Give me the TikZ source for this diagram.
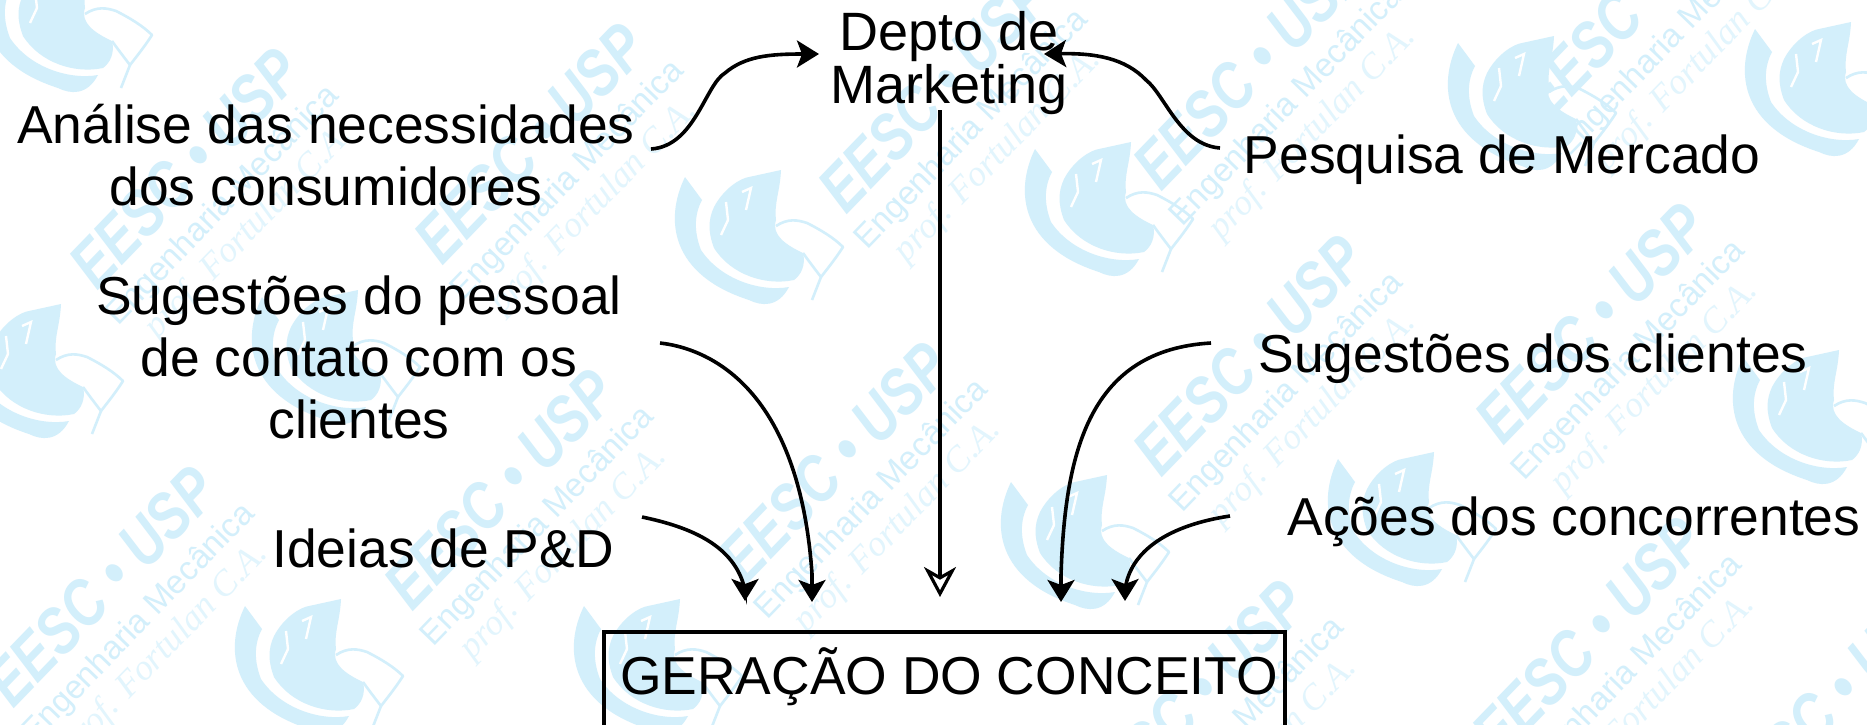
\documentclass[tikz,border=0pt]{standalone}
\usepackage{fontspec}
\setmainfont{Liberation Sans}
\newfontfamily\wmserif{Liberation Serif}
\newfontfamily\wmbold[FakeStretch=0.8]{Liberation Sans Bold Italic}
\usetikzlibrary{arrows.meta}
\definecolor{wm}{HTML}{D3EFFB}
\definecolor{wmlight}{HTML}{E2F5FD}
\tikzset{
  label text/.style={anchor=base,align=center,inner sep=0pt,text=black,font={\fontsize{26.7}{31}\selectfont}},
  tight text/.style={label text,font={\fontsize{27}{25}\selectfont}},
  conn/.style={line width=1.8pt,-{Stealth[length=11pt,width=13.5pt,inset=2.5pt]}},
  openconn/.style={line width=1.8pt,-{Stealth[length=15pt,width=16pt,inset=4.5pt,fill=white,line width=1.6pt]}},
  conceptbox/.style={draw=black,line width=1.8pt,fill=none,anchor=north west,outer sep=0pt,minimum width=340.5pt,minimum height=60pt,inner sep=0pt},
  wmA/.style={rotate=46,inner sep=0pt,text=wm,font={\fontsize{33}{33}\selectfont\wmbold}},
  wmB/.style={rotate=46,inner sep=0pt,text=wm,font={\fontsize{16.5}{17}\selectfont}},
  wmC/.style={rotate=46,inner sep=0pt,text=wmlight,font={\fontsize{18}{18}\selectfont\wmserif\itshape}},
}
\newcommand{\wmlogo}[2]{%
  \begin{scope}[shift={(#1,#2)}]
    \fill[wm] (-71,-63) .. controls (-92,-20) and (-85,35) .. (-7,60)
      .. controls (5,66) and (22,68) .. (33,47)
      .. controls (5,52) and (-35,40) .. (-55,10)
      .. controls (-62,-8) and (-62,-25) .. (-54,-40) -- cycle;
    \fill[wm] (-42,-33) .. controls (-32,-52) and (-15,-62) .. (-7,-63)
      -- (25,-70) .. controls (24,-48) and (18,-38) .. (20,-20)
      .. controls (15,-5) and (30,5) .. (47,13)
      .. controls (50,25) and (45,35) .. (38,40)
      .. controls (10,46) and (-25,35) .. (-42,8)
      .. controls (-48,-8) and (-48,-20) .. (-42,-33) -- cycle;
    \draw[wm,line width=1.3pt,line join=round] (20,-14) .. controls (32,-22) and (42,-20) .. (51,-17)
      .. controls (65,-10) and (78,-2) .. (87,7)
      .. controls (80,18) and (72,28) .. (65,37)
      .. controls (58,28) and (52,20) .. (47,13);
    \draw[wm,line width=1.3pt] (65,37) -- (56,60);
    \draw[white,line width=1.2pt] (-30,-38) -- (-28,-20) -- (-35,-5);
    \draw[white,line width=1.2pt] (-14,-48) -- (-5,-52) -- (-10,-30);
  \end{scope}}
\begin{document}
\begin{tikzpicture}[x=0.5pt,y=-0.5pt]
\useasboundingbox (0,0) rectangle (1867,724);
\begin{scope}
\clip (0,0) rectangle (1867,724);
\fill[white] (0,0) rectangle (1867,724);
% watermark
\foreach \lx/\ly in {65/28,756/240,36/374,333/360,316/669,655/669,1529/106,1106/212,1826/92,1082/545,1409/522,1814/420}{
  \wmlogo{\lx}{\ly}
}
\foreach \wx/\wy [count=\wi] in {185/168,530/143,934/92,1249/69,1635/0,500/489,834/462,1249/355,1591/323,101/586,1190/700,1588/637,1830/700}{
  \node[wmA] (wa\wi) at (\wx,\wy) {EESC • USP};
  \node[wmB] (wb\wi) at (\wx+38,\wy+38) {Engenharia Mecânica};
  \node[wmC] (wc\wi) at (\wx+64,\wy+64) {prof. Fortulan C.A.};
}
\end{scope}

% texts
\node[tight text] (depto) at (949,103) {Depto de\\Marketing};
\node[label text] (analise) at (326,205) {Análise das necessidades\\dos consumidores};
\node[label text] (pessoal) at (359,438) {Sugestões do pessoal\\de contato com os\\clientes};
\node[label text] (ideias) at (443,567) {Ideias de P\&D};
\node[label text] (pesquisa) at (1502,173) {Pesquisa de Mercado};
\node[label text] (sugcli) at (1533,372) {Sugestões dos clientes};
\node[label text] (acoes) at (1574,535) {Ações dos concorrentes};
\node[conceptbox] (box) at (604,632) {};
\node[label text] (conceito) at (949,694) {GERAÇÃO DO CONCEITO};

% connector ends
\coordinate (a0) at (651,149); \coordinate (a1) at (819,54);
\coordinate (b0) at (1220,148); \coordinate (b1) at (1044,54);
\coordinate (c0) at (660,343); \coordinate (c1) at (812,602);
\coordinate (d0) at (642,517); \coordinate (d1) at (745,601);
\coordinate (e0) at (1211,343); \coordinate (e1) at (1061,602);
\coordinate (f0) at (1230,516); \coordinate (f1) at (1125,601);
\coordinate (m0) at (940,110); \coordinate (m1) at (940,597);

\draw[conn] (a0) .. controls (695,146) and (705,85) .. (725,73) .. controls (745,56) and (770,54) .. (a1);
\draw[conn] (b0) .. controls (1180,145) and (1165,95) .. (1146,80) .. controls (1125,58) and (1095,53) .. (b1);
\draw[conn] (c0) .. controls (720,350) and (800,400) .. (812,574) -- (c1);
\draw[conn] (d0) .. controls (690,527) and (735,545) .. (745,590) -- (d1);
\draw[conn] (e0) .. controls (1090,350) and (1065,450) .. (1061,575) -- (e1);
\draw[conn] (f0) .. controls (1170,525) and (1130,550) .. (1125,590) -- (f1);
\draw[openconn] (m0) -- (m1);
\end{tikzpicture}
\end{document}
